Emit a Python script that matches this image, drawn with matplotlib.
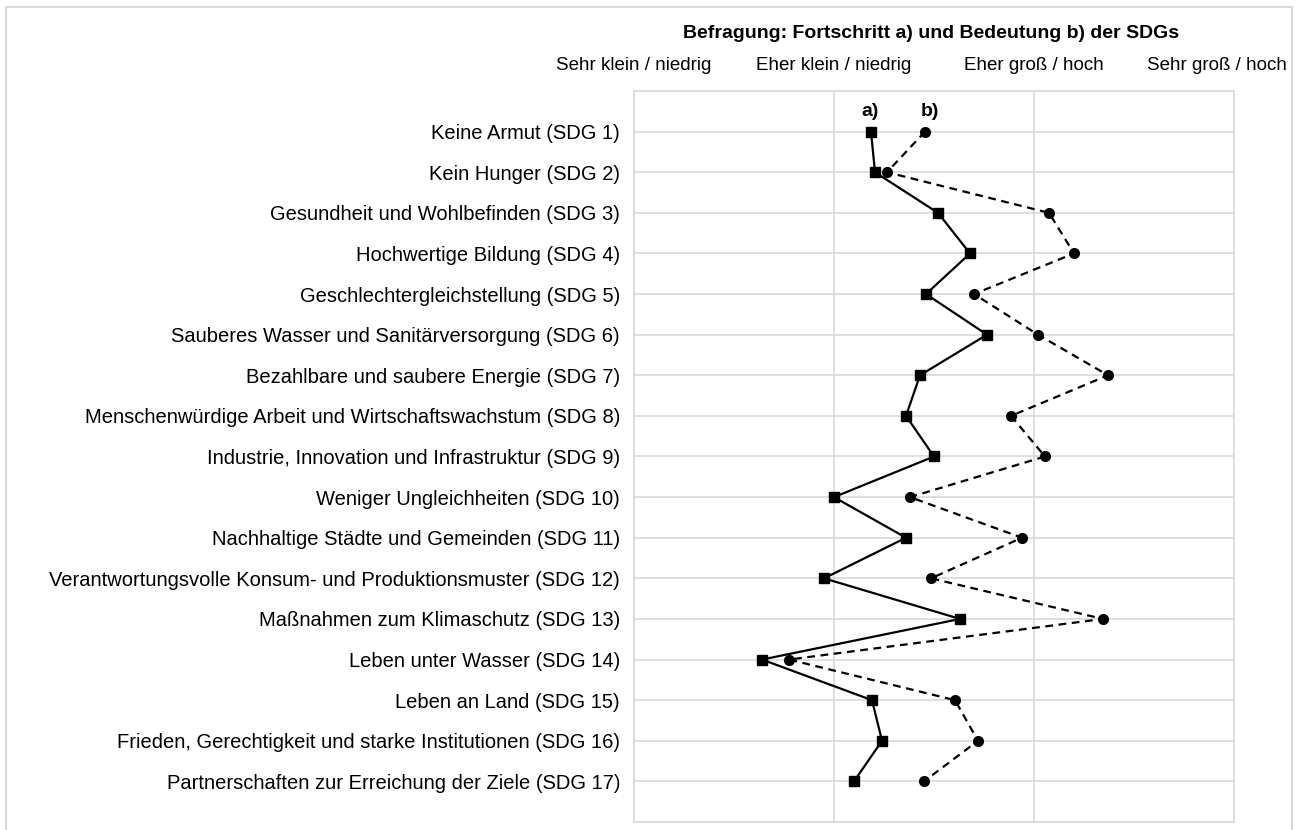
import matplotlib.pyplot as plt
from matplotlib.patches import Rectangle

plt.rcParams['font.family'] = ['Liberation Sans', 'DejaVu Sans']

# SDG names, top to bottom
sdg_labels = [
    "Keine Armut (SDG 1)",
    "Kein Hunger (SDG 2)",
    "Gesundheit und Wohlbefinden (SDG 3)",
    "Hochwertige Bildung (SDG 4)",
    "Geschlechtergleichstellung (SDG 5)",
    "Sauberes Wasser und Sanitärversorgung (SDG 6)",
    "Bezahlbare und saubere Energie (SDG 7)",
    "Menschenwürdige Arbeit und Wirtschaftswachstum (SDG 8)",
    "Industrie, Innovation und Infrastruktur (SDG 9)",
    "Weniger Ungleichheiten (SDG 10)",
    "Nachhaltige Städte und Gemeinden (SDG 11)",
    "Verantwortungsvolle Konsum- und Produktionsmuster (SDG 12)",
    "Maßnahmen zum Klimaschutz (SDG 13)",
    "Leben unter Wasser (SDG 14)",
    "Leben an Land (SDG 15)",
    "Frieden, Gerechtigkeit und starke Institutionen (SDG 16)",
    "Partnerschaften zur Erreichung der Ziele (SDG 17)",
]

# a) Fortschritt, b) Bedeutung  (scale 1..4)
progress_a = [2.185, 2.205, 2.52, 2.68, 2.46, 2.765, 2.43, 2.36, 2.50,
              2.00, 2.36, 1.95, 2.63, 1.64, 2.19, 2.24, 2.10]
importance_b = [2.455, 2.265, 3.075, 3.20, 2.70, 3.02, 3.37, 2.885, 3.055,
                2.38, 2.94, 2.485, 3.345, 1.775, 2.605, 2.72, 2.45]

scale_labels = ["Sehr klein / niedrig", "Eher klein / niedrig",
                "Eher groß / hoch", "Sehr groß / hoch"]

fig = plt.figure(figsize=(13.01, 8.3), dpi=100)
ax = fig.add_axes([634 / 1301, 1 - 822 / 830, 600 / 1301, 731 / 830])

rows = list(range(1, len(sdg_labels) + 1))
grid_c = '#d9d9d9'

ax.plot(progress_a, rows, color='black', linewidth=1.6, marker='s',
        markersize=6.5, zorder=3)
ax.plot(importance_b, rows, color='black', linewidth=1.6, linestyle=(0, (3.5, 2.5)),
        marker='o', markersize=7, zorder=3)

ax.set_xlim(1, 4)
ax.set_ylim(len(sdg_labels) + 1, 0)
ax.set_xticks([1, 2, 3, 4])
ax.set_xticklabels([])
ax.set_yticks(rows)
ax.set_yticklabels(sdg_labels, fontsize=14.5)
ax.set_yticks(range(0, len(sdg_labels) + 2), minor=True)
ax.tick_params(axis='both', length=0, which='both')
ax.tick_params(axis='y', pad=10)
ax.grid(True, which='major', axis='x', color=grid_c, linewidth=1.2)
ax.grid(True, which='minor', axis='y', color=grid_c, linewidth=1.2)
ax.grid(True, which='major', axis='y', color=grid_c, linewidth=1.2)
for s in ax.spines.values():
    s.set_color(grid_c)
    s.set_linewidth(1.2)

# series labels
ax.text(2.18, 0.5, "a)", ha='center', va='center', fontsize=14, fontweight='bold')
ax.text(2.48, 0.5, "b)", ha='center', va='center', fontsize=14, fontweight='bold')

# scale labels above the plot
label_x = [1, 2, 3, 3.915]
for x, lab in zip(label_x, scale_labels):
    ax.text(x, -0.64, lab, ha='center', va='center', fontsize=13.5, clip_on=False)

fig.text(931 / 1301, 1 - 33 / 830, "Befragung: Fortschritt a) und Bedeutung b) der SDGs",
         ha='center', va='center', fontsize=14, fontweight='bold')

fig.patches.append(Rectangle((6 / 1301, -0.02), 1286 / 1301, 1 - 7 / 830 + 0.02,
                             transform=fig.transFigure, fill=False,
                             edgecolor=grid_c, linewidth=1.5))

fig.savefig('out.png', dpi=100)
